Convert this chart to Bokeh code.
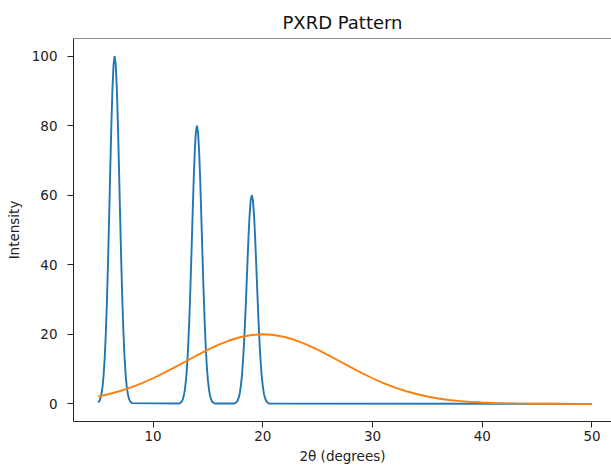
from bokeh.plotting import figure
from bokeh.models import Range1d, FixedTicker, Span
from bokeh.embed import file_html
from bokeh.resources import INLINE

# ---- data ----
blue_x = [
    5.0, 5.1, 5.2, 5.3, 5.4, 5.5, 5.6, 5.7, 5.8, 5.9, 6.0, 6.1, 6.2, 6.3, 6.4, 6.5,
    6.6, 6.7, 6.8, 6.9, 7.0, 7.1, 7.2, 7.3, 7.4, 7.5, 7.6, 7.7, 7.8, 7.9, 8.0, 8.1,
    12.4, 12.5, 12.6, 12.7, 12.8, 12.9, 13.0, 13.1, 13.2, 13.3, 13.4, 13.5, 13.6, 13.7, 13.8, 13.9, 14.0,
    14.1, 14.2, 14.3, 14.4, 14.5, 14.6, 14.7, 14.8, 14.9, 15.0, 15.1, 15.2, 15.3, 15.4, 15.5, 15.6,
    17.4, 17.5, 17.6, 17.7, 17.8, 17.9, 18.0, 18.1, 18.2, 18.3, 18.4, 18.5, 18.6, 18.7, 18.8, 18.9, 19.0,
    19.1, 19.2, 19.3, 19.4, 19.5, 19.6, 19.7, 19.8, 19.9, 20.0, 20.1, 20.2, 20.3, 20.4, 20.5, 20.6,
    50.0,
]
blue_y = [
    0.4, 0.8, 1.5, 2.9, 5.0, 8.5, 13.5, 20.6, 29.8, 41.1, 53.9, 67.4, 80.1, 90.6, 97.6, 100.0,
    97.6, 90.6, 80.1, 67.4, 53.9, 41.1, 29.8, 20.6, 13.5, 8.5, 5.0, 2.9, 1.5, 0.8, 0.4, 0.2,
    0.1, 0.3, 0.6, 1.2, 2.3, 4.0, 6.8, 10.8, 16.5, 23.8, 32.9, 43.1, 53.9, 64.1, 72.5, 78.1, 80.0,
    78.1, 72.5, 64.1, 53.9, 43.1, 32.9, 23.8, 16.5, 10.8, 6.8, 4.0, 2.3, 1.2, 0.6, 0.3, 0.1,
    0.1, 0.2, 0.5, 0.9, 1.7, 3.0, 5.1, 8.1, 12.4, 17.9, 24.7, 32.3, 40.4, 48.1, 54.4, 58.6, 60.0,
    58.6, 54.4, 48.1, 40.4, 32.3, 24.7, 17.9, 12.4, 8.1, 5.1, 3.0, 1.7, 0.9, 0.5, 0.2, 0.1,
    0.0,
]
orange_x = [
    5, 6, 7, 8, 9, 10, 11, 12, 13, 14, 15, 16, 17, 18, 19, 20, 21, 22, 23, 24, 25, 26, 27,
    28, 29, 30, 31, 32, 33, 34, 35, 36, 37, 38, 39, 40, 41, 42, 43, 44, 45, 46, 47, 48, 49, 50,
]
orange_y = [
    2.11, 2.82, 3.69, 4.74, 5.96, 7.36, 8.90, 10.55, 12.25, 13.95, 15.58, 17.04, 18.28, 19.22, 19.80,
    20.0, 19.80, 19.22, 18.28, 17.04, 15.58, 13.95, 12.25, 10.55, 8.90, 7.36, 5.96, 4.74, 3.69, 2.82,
    2.11, 1.55, 1.11, 0.78, 0.54, 0.37, 0.24, 0.16, 0.10, 0.06, 0.04, 0.02, 0.01, 0.0, 0.0, 0.0,
]
x_ticks = [10, 20, 30, 40, 50]
y_ticks = [0, 20, 40, 60, 80, 100]

FONT = "DejaVu Sans"

p = figure(
    width=611, height=466,
    x_range=Range1d(2.75, 51.78), y_range=Range1d(-5.08, 105.08),
    output_backend="svg", toolbar_location=None,
    min_border_left=73, min_border_right=0, min_border_top=38, min_border_bottom=44,
    title="PXRD Pattern",
)
p.background_fill_color = "white"
p.border_fill_color = "white"
p.outline_line_color = None
p.grid.visible = False

p.title.align = "center"
p.title.text_font = FONT
p.title.text_font_size = "18px"
p.title.text_font_style = "normal"
p.title.text_color = "#111111"
p.title.standoff = 12

p.line(blue_x, blue_y, line_color="#1f77b4", line_width=1.9)
p.line(orange_x, orange_y, line_color="#ff7f0e", line_width=1.9)

p.add_layout(Span(location=105.08, dimension="width", line_color="#222222", line_width=1))

for ax in (p.xaxis[0], p.yaxis[0]):
    ax.axis_line_color = "#222222"
    ax.axis_line_width = 1
    ax.major_tick_line_color = "#222222"
    ax.major_tick_in = 0
    ax.major_tick_out = 6
    ax.minor_tick_line_color = None
    ax.major_label_text_font = FONT
    ax.major_label_text_font_size = "13.5px"
    ax.major_label_text_color = "#222222"
    ax.axis_label_text_font = FONT
    ax.axis_label_text_font_size = "13.5px"
    ax.axis_label_text_font_style = "normal"
    ax.axis_label_text_color = "#222222"

p.xaxis.ticker = FixedTicker(ticks=x_ticks)
p.yaxis.ticker = FixedTicker(ticks=y_ticks)
p.xaxis.axis_label = "2θ (degrees)"
p.yaxis.axis_label = "Intensity"
p.xaxis.major_label_standoff = 3
p.xaxis.axis_label_standoff = 4
p.yaxis.major_label_standoff = 10
p.yaxis.axis_label_standoff = 7

open("out.html", "w").write(file_html(p, INLINE))
